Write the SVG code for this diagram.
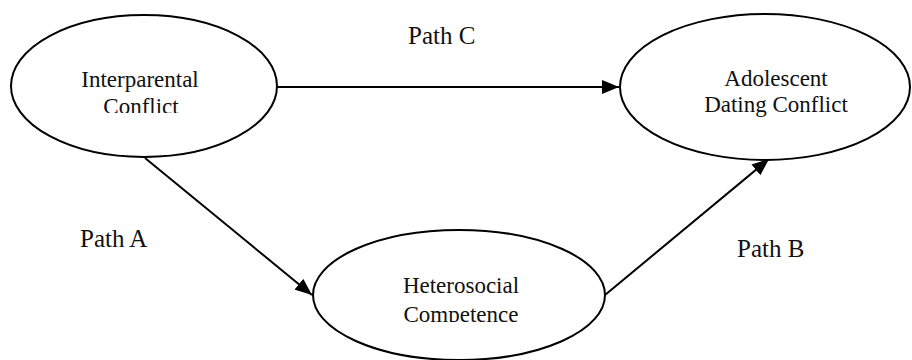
<svg xmlns="http://www.w3.org/2000/svg" width="912" height="360" viewBox="0 0 912 360">
  <style>
    .node { fill: #ffffff; stroke: #000000; stroke-width: 2; }
    .label { font-family: "Liberation Serif", "Times New Roman", serif; font-size: 23px; fill: #111111; text-anchor: middle; }
    .path-label { font-family: "Liberation Serif", "Times New Roman", serif; font-size: 25px; fill: #111111; }
    .edge { stroke: #000000; stroke-width: 2; fill: none; marker-end: url(#arrow); }
  </style>
  <defs>
    <marker id="arrow" viewBox="0 0 17 14" refX="17" refY="7" markerWidth="17" markerHeight="14" markerUnits="userSpaceOnUse" orient="auto">
      <path d="M0,0 L17,7 L0,14 Z" fill="#000000"/>
    </marker>
    <!-- label boxes cut the second line at its baseline -->
    <clipPath id="clip-ip"><rect x="40" y="50" width="210" height="63"/></clipPath>
    <clipPath id="clip-hc"><rect x="340" y="255" width="240" height="67"/></clipPath>
  </defs>
  <rect width="912" height="360" fill="#ffffff"/>

  <g id="connectors">
    <line class="edge" x1="277" y1="87" x2="619" y2="87"/>
    <line class="edge" x1="145" y1="158" x2="312" y2="295"/>
    <line class="edge" x1="605" y1="295" x2="769" y2="159"/>
  </g>

  <g id="node-interparental">
    <ellipse class="node" cx="144" cy="86" rx="133" ry="71"/>
    <g clip-path="url(#clip-ip)">
      <text class="label" x="140" y="87">Interparental</text>
      <text class="label" x="141" y="114">Conflict</text>
    </g>
  </g>

  <g id="node-dating">
    <ellipse class="node" cx="765" cy="87" rx="145" ry="73"/>
    <text class="label" x="776" y="86">Adolescent</text>
    <text class="label" x="776" y="112">Dating Conflict</text>
  </g>

  <g id="node-heterosocial">
    <ellipse class="node" cx="459" cy="295" rx="146" ry="65"/>
    <g clip-path="url(#clip-hc)">
      <text class="label" x="461" y="293">Heterosocial</text>
      <text class="label" x="461" y="322">Competence</text>
    </g>
  </g>

  <g id="path-labels">
    <text class="path-label" x="408" y="44">Path C</text>
    <text class="path-label" x="80" y="247">Path A</text>
    <text class="path-label" x="737" y="257">Path B</text>
  </g>
</svg>
